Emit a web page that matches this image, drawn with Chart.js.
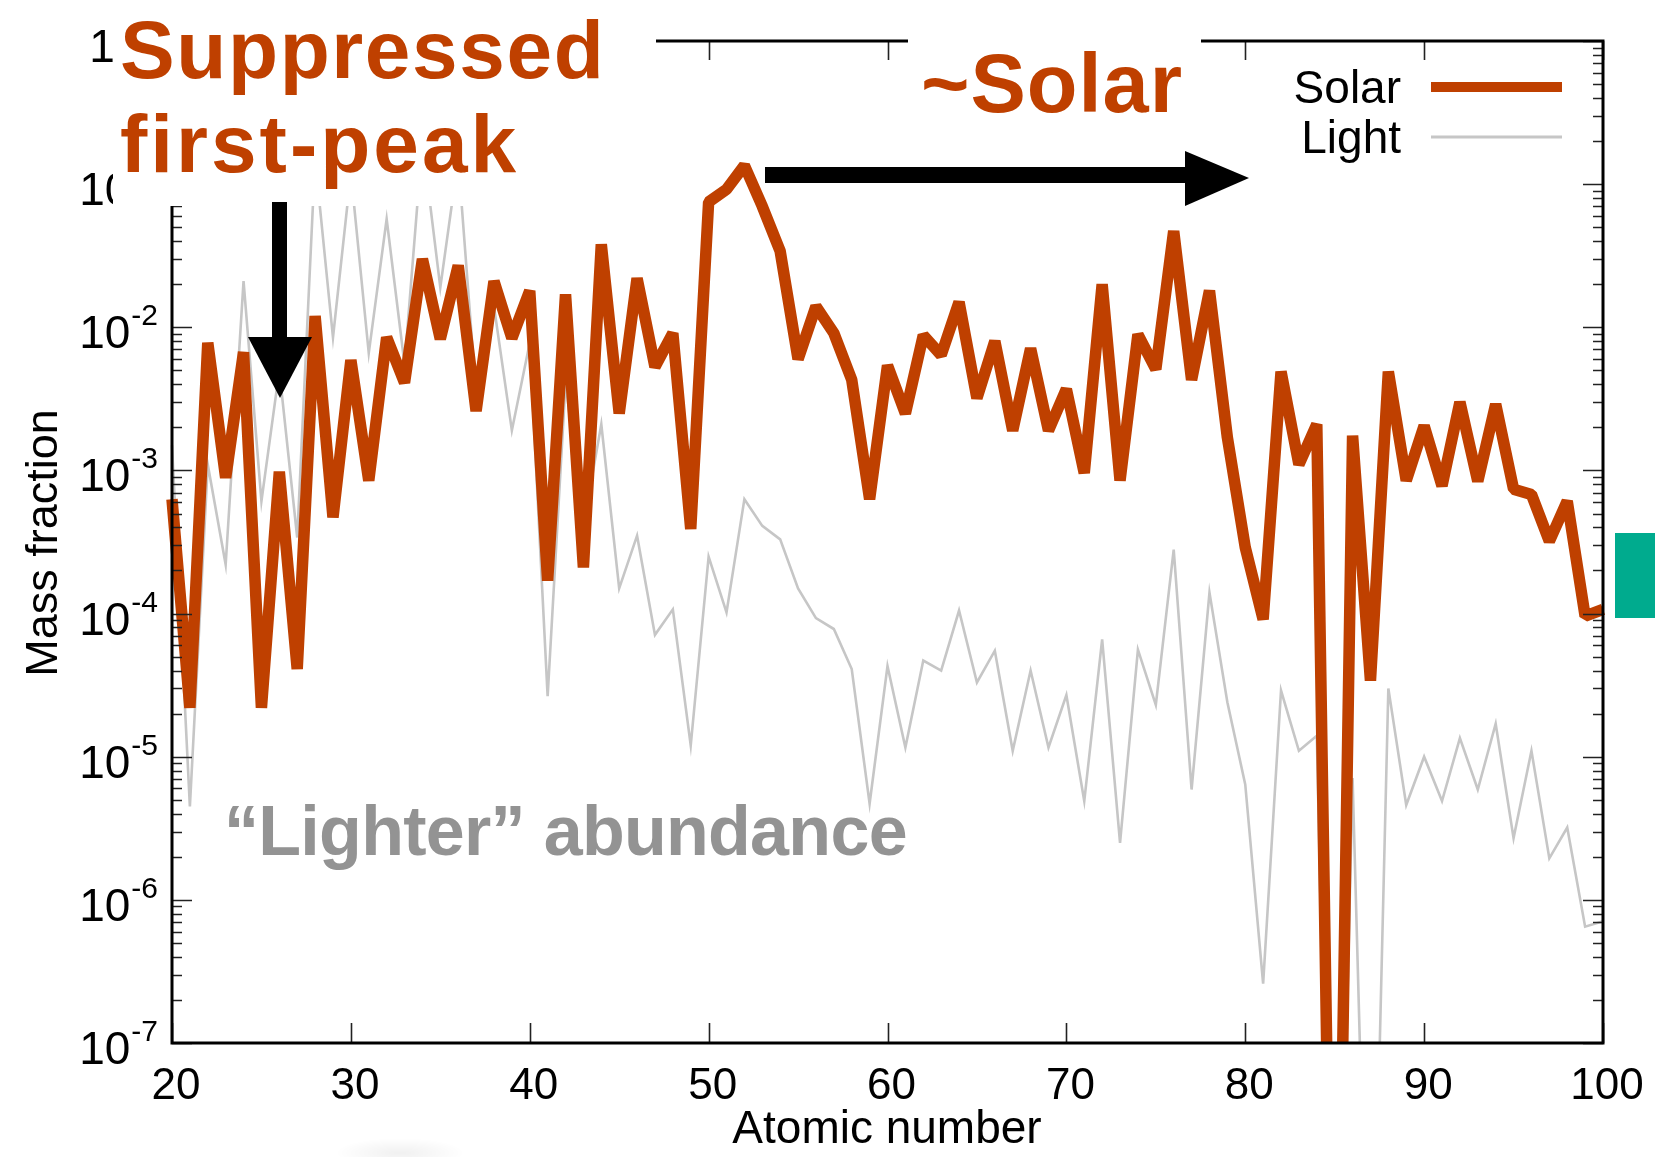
<!DOCTYPE html>
<html>
<head>
<meta charset="utf-8">
<script src="https://cdn.jsdelivr.net/npm/chart.js@4/dist/chart.umd.min.js"></script>
<style>
  html, body { margin: 0; padding: 0; background: #fff; }
  #wrap { position: relative; width: 1655px; height: 1157px; overflow: hidden; }
  #chart { position: absolute; left: 0; top: 0; }
  .box { position: absolute; background: #fff; }
  .note { position: absolute; font-family: "Liberation Sans", Arial, Helvetica, sans-serif; font-weight: bold; white-space: nowrap; }
  #smudge { position: absolute; left: 335px; top: 1138px; width: 130px; height: 30px;
            background: radial-gradient(ellipse at center, rgba(0,0,0,0.06), rgba(0,0,0,0) 70%); }
  svg { position: absolute; left: 0; top: 0; }
</style>
</head>
<body>
<div id="wrap">
  <canvas id="chart" width="1655" height="1157"></canvas>

  <!-- text boxes laid over the plot -->
  <div class="box" style="left:113px; top:0; width:543px; height:206px;"></div>
  <div class="box" style="left:908px; top:0; width:293px; height:135px;"></div>

  <div class="note" style="left:120px; top:3px; font-size:82px; line-height:94px; letter-spacing:1.6px; color:#bf4000;">Suppressed</div>
  <div class="note" style="left:120px; top:97px; font-size:82px; line-height:94px; letter-spacing:3px; color:#bf4000;">first-peak</div>
  <div class="note" style="left:921px; top:42px; font-size:83px; line-height:83px; letter-spacing:1px; color:#bf4000;">~Solar</div>
  <div class="note" style="left:224px; top:796px; font-size:70px; line-height:70px; letter-spacing:-0.7px; color:#939393;">“Lighter” abundance</div>

  <svg width="1655" height="1157">
    <rect x="272" y="202" width="15" height="136" fill="#000"/>
    <polygon points="248,337 312,337 280,398" fill="#000"/>
    <rect x="765" y="167" width="421" height="16" fill="#000"/>
    <polygon points="1185,151 1185,206 1249,178" fill="#000"/>
    <rect x="1615" y="533" width="40" height="85" fill="#00ab8e"/>
  </svg>
  <div id="smudge"></div>
</div>

<script>
const FONT = '"Liberation Sans", Arial, Helvetica, sans-serif';
const ORANGE = "#bf4000";
const GREY = "#c6c6c6";

// atomic number Z
const atomicNumbers = [
  20, 21, 22, 23, 24, 25, 26, 27, 28, 29,
  30, 31, 32, 33, 34, 35, 36, 37, 38, 39,
  40, 41, 42, 43, 44, 45, 46, 47, 48, 49,
  50, 51, 52, 53, 54, 55, 56, 57, 58, 59,
  60, 61, 62, 63, 64, 65, 66, 67, 68, 69,
  70, 71, 72, 73, 74, 75, 76, 77, 78, 79,
  80, 81, 82, 83, 84, 85, 86, 87, 88, 89,
  90, 91, 92, 93, 94, 95, 96, 97, 98, 99,
  100
];

// mass fractions, solar-like ejecta
const solarFractions = [
  6.3e-4, 2.2e-5, 7.8e-3, 8.9e-4, 6.7e-3, 2.2e-5, 9.8e-4, 4.1e-5, 1.2e-2, 4.7e-4,
  5.9e-3, 8.5e-4, 8.5e-3, 4.1e-3, 3.0e-2, 8.3e-3, 2.7e-2, 2.6e-3, 2.1e-2, 8.4e-3,
  1.8e-2, 1.7e-4, 1.7e-2, 2.1e-4, 3.8e-2, 2.5e-3, 2.2e-2, 5.3e-3, 9.1e-3, 3.9e-4,
  7.5e-2, 9.2e-2, 1.35e-1, 7.0e-2, 3.4e-2, 6.0e-3, 1.4e-2, 9.1e-3, 4.3e-3, 6.3e-4,
  5.4e-3, 2.5e-3, 8.8e-3, 6.4e-3, 1.5e-2, 3.2e-3, 8.0e-3, 1.9e-3, 7.1e-3, 1.9e-3,
  3.7e-3, 9.6e-4, 2.0e-2, 8.5e-4, 8.9e-3, 5.1e-3, 4.7e-2, 4.3e-3, 1.8e-2, 1.7e-3,
  2.9e-4, 9.1e-5, 4.9e-3, 1.1e-3, 2.1e-3, 3.0e-11, 1.75e-3, 3.4e-5, 4.9e-3, 8.5e-4,
  2.05e-3, 7.8e-4, 3.0e-3, 8.4e-4, 2.9e-3, 7.4e-4, 6.8e-4, 3.2e-4, 6.1e-4, 9.6e-5,
  1.07e-4
];

// mass fractions, light (first-peak dominated) ejecta
const lightFractions = [
  1.5e-3, 4.5e-6, 1.1e-3, 2.2e-4, 2.1e-2, 6.1e-4, 5.0e-3, 3.4e-4, 1.5e-1, 8.5e-3,
  1.2e-1, 6.6e-3, 5.7e-2, 5.5e-3, 2.0e-1, 1.9e-2, 1.5e-1, 3.4e-3, 1.4e-2, 1.9e-3,
  7.8e-3, 2.65e-5, 4.1e-3, 4.1e-4, 2.1e-3, 1.5e-4, 3.5e-4, 7.1e-5, 1.07e-4, 1.2e-5,
  2.5e-4, 1.02e-4, 6.3e-4, 4.1e-4, 3.3e-4, 1.5e-4, 9.3e-5, 7.8e-5, 4.1e-5, 4.7e-6,
  4.3e-5, 1.16e-5, 4.7e-5, 4.0e-5, 1.05e-4, 3.3e-5, 5.5e-5, 1.1e-5, 4.0e-5, 1.16e-5,
  2.7e-5, 4.9e-6, 6.6e-5, 2.5e-6, 5.6e-5, 2.3e-5, 2.8e-4, 5.9e-6, 1.4e-4, 2.4e-5,
  6.4e-6, 2.6e-7, 2.9e-5, 1.1e-5, 1.4e-5, 3.0e-11, 7.1e-6, 2.0e-10, 3.0e-5, 4.6e-6,
  1.0e-5, 4.9e-6, 1.35e-5, 5.9e-6, 1.7e-5, 2.7e-6, 1.1e-5, 1.95e-6, 3.2e-6, 6.5e-7,
  7.1e-7
];

// axis ticks
const xTicks = [20, 30, 40, 50, 60, 70, 80, 90, 100];
const yTickExponents = [-7, -6, -5, -4, -3, -2, -1, 0];
const yMinorMultipliers = [2, 3, 4, 5, 6, 7, 8, 9];

const toPoints = (ys) => atomicNumbers.map((z, i) => ({ x: z, y: ys[i] }));

// gnuplot-like frame: inward ticks on all four sides, labels, titles, key
const framePlugin = {
  id: "frame",
  afterDraw(chart) {
    const { ctx, chartArea: a, scales } = chart;
    const xs = scales.x, ys = scales.y;
    ctx.save();

    // ticks
    ctx.strokeStyle = "#222";
    ctx.lineWidth = 1.6;
    ctx.beginPath();
    xTicks.forEach((v) => {
      const px = Math.round(xs.getPixelForValue(v)) + 0.5;
      ctx.moveTo(px, a.bottom); ctx.lineTo(px, a.bottom - 20);
      ctx.moveTo(px, a.top); ctx.lineTo(px, a.top + 19);
    });
    yTickExponents.forEach((e) => {
      const py = Math.round(ys.getPixelForValue(Math.pow(10, e))) + 0.5;
      ctx.moveTo(a.left, py); ctx.lineTo(a.left + 20, py);
      ctx.moveTo(a.right, py); ctx.lineTo(a.right - 20, py);
      if (e < 0) {
        yMinorMultipliers.forEach((m) => {
          const my = Math.round(ys.getPixelForValue(m * Math.pow(10, e))) + 0.5;
          ctx.moveTo(a.left, my); ctx.lineTo(a.left + 10, my);
          ctx.moveTo(a.right, my); ctx.lineTo(a.right - 10, my);
        });
      }
    });
    ctx.stroke();

    // border
    ctx.strokeStyle = "#000";
    ctx.lineWidth = 3;
    ctx.strokeRect(a.left, a.top, a.right - a.left, a.bottom - a.top);

    // x tick labels
    ctx.fillStyle = "#000";
    ctx.font = `44px ${FONT}`;
    ctx.textAlign = "center";
    ctx.textBaseline = "alphabetic";
    xTicks.forEach((v) => {
      ctx.fillText(String(v), xs.getPixelForValue(v) + 4, a.bottom + 56);
    });

    // y tick labels as 10^n
    const labelRight = 158;
    ctx.textAlign = "left";
    yTickExponents.forEach((e) => {
      const py = ys.getPixelForValue(Math.pow(10, e));
      const sup = String(e);
      ctx.font = `30px ${FONT}`;
      const supW = ctx.measureText(sup).width;
      ctx.fillText(sup, labelRight - supW, py - 2);
      ctx.font = `46px ${FONT}`;
      const baseW = ctx.measureText("10").width;
      ctx.fillText("10", labelRight - supW - baseW - 1, py + 21);
    });

    // axis titles
    ctx.font = `46px ${FONT}`;
    ctx.textAlign = "center";
    ctx.fillText("Atomic number", 887, 1143);
    ctx.save();
    ctx.translate(57, 543);
    ctx.rotate(-Math.PI / 2);
    ctx.font = `45px ${FONT}`;
    ctx.fillText("Mass fraction", 0, 0);
    ctx.restore();

    // key
    const keyRows = [
      { text: chart.data.datasets[0].label, color: ORANGE, width: 10, y: 87 },
      { text: chart.data.datasets[1].label, color: GREY, width: 3, y: 137 },
    ];
    ctx.font = `46px ${FONT}`;
    ctx.textAlign = "right";
    keyRows.forEach((r) => {
      ctx.fillStyle = "#000";
      ctx.fillText(r.text, 1401, r.y + 16);
      ctx.strokeStyle = r.color;
      ctx.lineWidth = r.width;
      ctx.beginPath();
      ctx.moveTo(1431, r.y);
      ctx.lineTo(1562, r.y);
      ctx.stroke();
    });

    ctx.restore();
  },
};

new Chart(document.getElementById("chart").getContext("2d"), {
  type: "line",
  data: {
    datasets: [
      {
        label: "Solar",
        data: toPoints(solarFractions),
        borderColor: ORANGE,
        borderWidth: 11.5,
        borderJoinStyle: "bevel",
        pointRadius: 0,
        clip: { left: 8, right: 8, top: 0, bottom: 0 },
      },
      {
        label: "Light",
        data: toPoints(lightFractions),
        borderColor: GREY,
        borderWidth: 2.6,
        pointRadius: 0,
        clip: { left: 4, right: 4, top: 0, bottom: 0 },
      },
    ],
  },
  options: {
    responsive: false,
    animation: false,
    layout: { padding: { left: 172, top: 41, right: 52, bottom: 114 } },
    scales: {
      x: { type: "linear", min: 20, max: 100, display: false },
      y: { type: "logarithmic", min: 1e-7, max: 1, display: false },
    },
    plugins: {
      legend: { display: false },
      tooltip: { enabled: false },
    },
  },
  plugins: [framePlugin],
});
</script>
</body>
</html>
